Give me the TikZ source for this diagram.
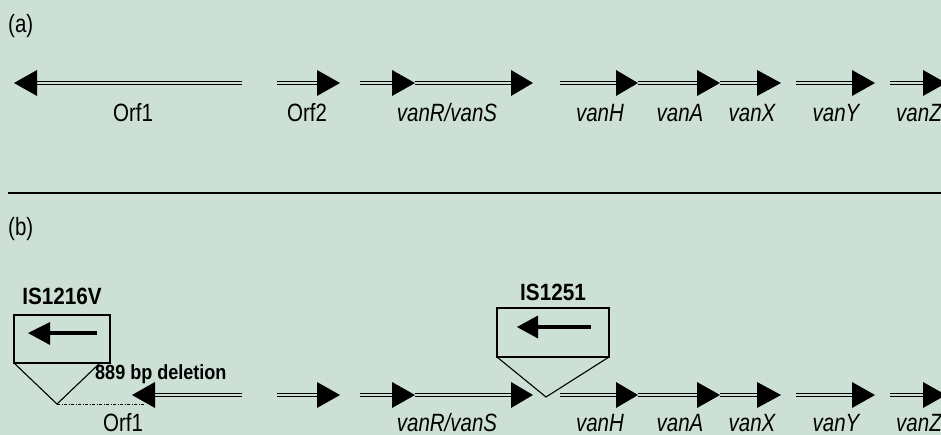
\documentclass[tikz,border=0pt]{standalone}
\usepackage{fontspec}
\setmainfont{Liberation Sans}[FakeStretch=0.82, BoldFeatures={FakeStretch=0.88}]
\definecolor{panelbg}{RGB}{205,224,214}
% gene: double strand from #1 to the head base #2, filled head ending at #3, on row #4
\newcommand\genearrow[4]{%
  \draw[dna] (#1,#4) -- (#2,#4);
  \fill[black] (#2,#4-13) -- (#3,#4) -- (#2,#4+13) -- cycle;}
\tikzset{
  dna/.style={draw=black, line width=1.2pt, double=panelbg, double distance=2pt},
  lbl/.style={anchor=base, inner sep=0pt, font=\fontsize{25}{25}\selectfont},
  genelbl/.style={lbl, font=\fontsize{25}{25}\selectfont\itshape},
  islbl/.style={anchor=base, inner sep=0pt, font=\fontsize{23.5}{24}\selectfont\bfseries},
  dellbl/.style={anchor=base west, inner sep=0pt, font=\fontsize{20.5}{21}\selectfont\bfseries},
  isbox/.style={draw=black, line width=1.1pt},
  isarrow/.style={line width=4.5pt},
  gapline/.style={line width=0.6pt, dash pattern=on 3pt off 1.5pt on 1pt off 1.5pt},
}
\begin{document}
\begin{tikzpicture}[x=1pt, y=-1pt]
  \useasboundingbox (0,0) rectangle (941,435);
  \clip (0,0) rectangle (941,435);
  \fill[panelbg] (0,0) rectangle (941,435);

  % ---------- panel (a) ----------
  \node[lbl, anchor=base west] (pa) at (8,33) {(a)};
  \genearrow{242}{37}{14}{83}
  \genearrow{277}{317}{340}{83}
  \genearrow{360}{392}{415}{83}
  \genearrow{415}{511}{533}{83}
  \genearrow{560}{616}{638}{83}
  \genearrow{638}{697}{720}{83}
  \genearrow{720}{757}{781}{83}
  \genearrow{796}{852}{875}{83}
  \genearrow{890}{923}{946}{83}
  \node[lbl] (a-orf1) at (133,122) {Orf1};
  \node[lbl] (a-orf2) at (307,122) {Orf2};
  \node[genelbl] (a-vanRS) at (447,122) {vanR/vanS};
  \node[genelbl] (a-vanH) at (600,122) {vanH};
  \node[genelbl] (a-vanA) at (680,122) {vanA};
  \node[genelbl] (a-vanX) at (752,122) {vanX};
  \node[genelbl] (a-vanY) at (836,122) {vanY};
  \node[genelbl] (a-vanZ) at (919,122) {vanZ};

  % separator
  \draw[line width=2.5pt] (8,193) -- (941,193);

  % ---------- panel (b) ----------
  \node[lbl, anchor=base west] (pb) at (8,236) {(b)};

  % IS1216V insertion and the deleted stretch
  \node[islbl] (is1216) at (62,305) {IS1216V};
  \draw[isbox] (14,315) rectangle (110,363);
  \draw[isarrow] (97,333) -- (49,333);
  \fill[black] (50,322) -- (28,333) -- (50,345) -- cycle;
  \draw[isbox] (14,363) -- (57,404) -- (100,363);
  \draw[gapline] (57,404) -- (145,404);
  \node[dellbl] (del) at (95,379) {889 bp deletion};

  % IS1251 insertion
  \node[islbl] (is1251) at (553,300) {IS1251};
  \draw[isbox] (497,308) rectangle (609,357);
  \draw[isarrow] (591,327) -- (537,327);
  \fill[black] (538,315.5) -- (517,327) -- (538,338.5) -- cycle;
  \draw[isbox] (497,357) -- (546,397) -- (609,357);

  \genearrow{242}{155}{132}{395}
  \genearrow{277}{317}{340}{395}
  \genearrow{360}{392}{415}{395}
  \genearrow{415}{511}{533}{395}
  \genearrow{560}{616}{638}{395}
  \genearrow{638}{697}{720}{395}
  \genearrow{720}{757}{781}{395}
  \genearrow{796}{852}{875}{395}
  \genearrow{890}{923}{946}{395}
  \node[lbl] (b-orf1) at (123,431) {Orf1};
  \node[genelbl] (b-vanRS) at (447,431) {vanR/vanS};
  \node[genelbl] (b-vanH) at (600,431) {vanH};
  \node[genelbl] (b-vanA) at (680,431) {vanA};
  \node[genelbl] (b-vanX) at (752,431) {vanX};
  \node[genelbl] (b-vanY) at (836,431) {vanY};
  \node[genelbl] (b-vanZ) at (919,431) {vanZ};
\end{tikzpicture}
\end{document}
